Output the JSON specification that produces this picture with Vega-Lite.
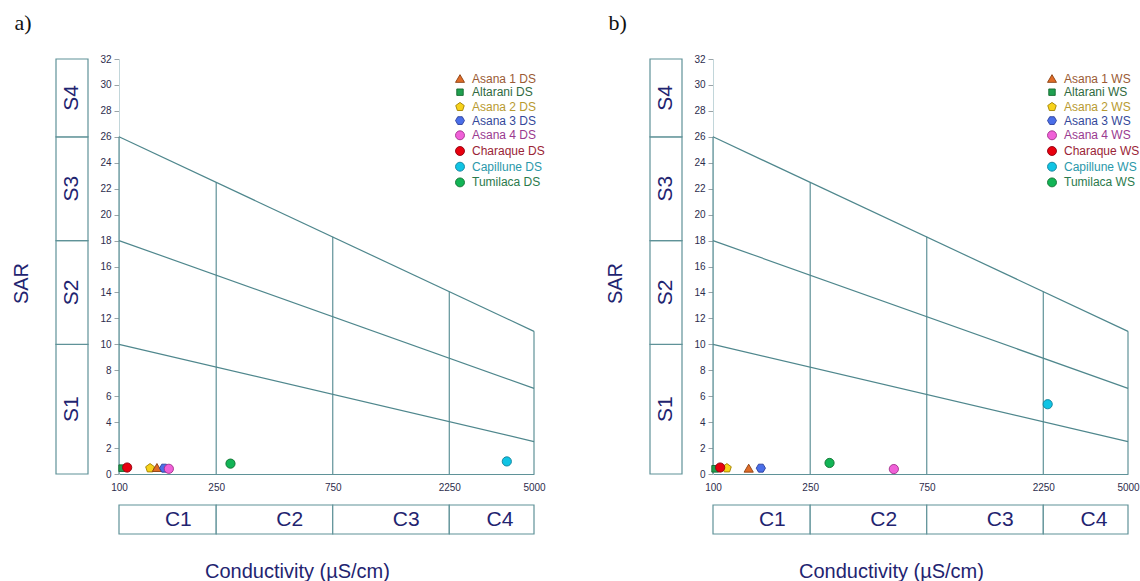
{
  "$schema": "https://vega.github.io/schema/vega-lite/v6.json",
  "background": "white",
  "padding": {"left": 11, "top": 11, "right": 0, "bottom": 0},
  "spacing": 59,
  "config": {
    "view": {"stroke": null},
    "font": "Liberation Sans",
    "axis": {"labelFont": "Liberation Sans", "titleFont": "Liberation Sans"},
    "axisY": {"values": [0, 2, 4, 6, 8, 10, 12, 14, 16, 18, 20, 22, 24, 26, 28, 30, 32], "labelOverlap": false},
    "legend": {"labelFont": "Liberation Sans"}
  },
  "datasets": {
    "sclasses": [
      {"cls": "S1", "lo": 0, "hi": 10},
      {"cls": "S2", "lo": 10, "hi": 18},
      {"cls": "S3", "lo": 18, "hi": 26},
      {"cls": "S4", "lo": 26, "hi": 32}
    ],
    "cclasses": [
      {"cls": "C1", "lo": 100, "hi": 250},
      {"cls": "C2", "lo": 250, "hi": 750},
      {"cls": "C3", "lo": 750, "hi": 2250},
      {"cls": "C4", "lo": 2250, "hi": 5000}
    ],
    "verticals": [
      {"ec": 100, "top": 26},
      {"ec": 250, "top": 22.5},
      {"ec": 750, "top": 18.3},
      {"ec": 2250, "top": 14.06},
      {"ec": 5000, "top": 11}
    ],
    "hazard": [
      {"id": "S1-S2", "ec": 100, "sar": 10},
      {"id": "S1-S2", "ec": 5000, "sar": 2.5},
      {"id": "S2-S3", "ec": 100, "sar": 18},
      {"id": "S2-S3", "ec": 5000, "sar": 6.6},
      {"id": "S3-S4", "ec": 100, "sar": 26},
      {"id": "S3-S4", "ec": 5000, "sar": 11}
    ],
    "ds": [
      {"site": "Altarani DS", "ec": 103, "sar": 0.45},
      {"site": "Asana 2 DS", "ec": 134, "sar": 0.45},
      {"site": "Asana 1 DS", "ec": 143, "sar": 0.5},
      {"site": "Asana 3 DS", "ec": 153, "sar": 0.45},
      {"site": "Asana 4 DS", "ec": 160, "sar": 0.4},
      {"site": "Charaque DS", "ec": 108, "sar": 0.5},
      {"site": "Tumilaca DS", "ec": 286, "sar": 0.8},
      {"site": "Capillune DS", "ec": 3870, "sar": 0.97}
    ],
    "ws": [
      {"site": "Altarani WS", "ec": 102, "sar": 0.4},
      {"site": "Asana 1 WS", "ec": 140, "sar": 0.45},
      {"site": "Asana 3 WS", "ec": 157, "sar": 0.45},
      {"site": "Asana 2 WS", "ec": 114, "sar": 0.45},
      {"site": "Charaque WS", "ec": 107, "sar": 0.5},
      {"site": "Tumilaca WS", "ec": 300, "sar": 0.85},
      {"site": "Asana 4 WS", "ec": 550, "sar": 0.38},
      {"site": "Capillune WS", "ec": 2345, "sar": 5.38}
    ]
  },
  "resolve": {"scale": {"x": "independent", "y": "independent", "color": "independent", "shape": "independent", "stroke": "independent"}},
  "hconcat": [
    {
      "title": {"text": "a)", "anchor": "start", "dx": 3, "font": "Liberation Serif", "fontSize": 22, "fontWeight": "normal", "color": "#111111", "offset": 19.5},
      "columns": 2,
      "spacing": {"row": 12, "column": 10},
      "resolve": {"scale": {"x": "independent", "y": "independent"}},
      "concat": [
        {
          "width": 32, "height": 415,
          "data": {"name": "sclasses"},
          "layer": [
            {"mark": {"type": "rect", "fill": "white", "stroke": "#5f9298", "strokeWidth": 1.2},
             "encoding": {
               "y": {"field": "lo", "type": "quantitative", "scale": {"domain": [0, 32], "nice": false},
                     "axis": {"title": "SAR", "labels": false, "ticks": false, "domain": false, "grid": false, "titleFontSize": 20, "titleFontWeight": "normal", "titleColor": "#1f2470", "titlePadding": 24.5, "titleY": 224}},
               "y2": {"field": "hi"}}},
            {"transform": [{"fold": ["lo", "hi"], "as": ["bound", "v"]}],
             "mark": {"type": "text", "angle": 270, "fontSize": 21, "color": "#1f2470", "align": "center", "baseline": "middle"},
             "encoding": {"y": {"field": "v", "aggregate": "mean", "type": "quantitative"}, "text": {"field": "cls", "type": "nominal"}}}
          ]
        },
        {
          "width": 415, "height": 415,
          "layer": [
            {"data": {"name": "verticals"},
             "mark": {"type": "rule", "color": "#5f9298", "strokeWidth": 1.2},
             "encoding": {
               "x": {"field": "ec", "type": "quantitative", "scale": {"type": "log", "domain": [100, 5000], "nice": false},
                     "axis": {"values": [100, 250, 750, 2250, 5000], "format": "d", "title": null, "ticks": false, "grid": false, "domainColor": "#5f9298", "domainWidth": 1.2, "labelFlush": false, "labelOverlap": false, "labelFontSize": 10, "labelColor": "#2d2d4d", "labelPadding": 8}},
               "y": {"field": "top", "type": "quantitative", "scale": {"domain": [0, 32], "nice": false},
                     "axis": {"values": [0, 2, 4, 6, 8, 10, 12, 14, 16, 18, 20, 22, 24, 26, 28, 30, 32], "tickCount": 17, "format": "d", "title": null, "grid": false, "labelOverlap": false, "tickColor": "#9aa4a8", "tickSize": 5, "domainColor": "#c2d6da", "labelFontSize": 10, "labelColor": "#2d2d4d", "labelPadding": 3}},
               "y2": {"datum": 0}}},
            {"data": {"name": "hazard"},
             "mark": {"type": "line", "color": "#4f878d", "strokeWidth": 1.2},
             "encoding": {"x": {"field": "ec", "type": "quantitative"}, "y": {"field": "sar", "type": "quantitative"}, "detail": {"field": "id", "type": "nominal"}}},
            {"data": {"name": "ds"},
             "mark": {"type": "point", "filled": true, "size": 85, "opacity": 1, "strokeWidth": 0.9},
             "encoding": {
               "x": {"field": "ec", "type": "quantitative"},
               "y": {"field": "sar", "type": "quantitative"},
               "color": {"field": "site", "type": "nominal",
                 "scale": {"domain": ["Asana 1 DS", "Altarani DS", "Asana 2 DS", "Asana 3 DS", "Asana 4 DS", "Charaque DS", "Capillune DS", "Tumilaca DS"],
                           "range": ["#e06c28", "#1fa050", "#f7d21a", "#4a6ee8", "#f060d8", "#e8000e", "#10c4e4", "#12b456"]},
                 "legend": {"orient": "none", "legendX": 398, "legendY": 13.5, "title": null, "labelFontSize": 12, "symbolSize": 80, "rowPadding": 1.7, "labelOffset": 6, "symbolStrokeWidth": 0.9,
                   "labelColor": {"expr": "['#9a5a34','#2f6a40','#b89a30','#34489a','#9a3a90','#9a2436','#2a98aa','#2a7a4c'][indexof(['Asana 1','Altarani','Asana 2','Asana 3','Asana 4','Charaque','Capillune','Tumilaca'], slice(datum.value, 0, -3))]"}}},
               "stroke": {"field": "site", "type": "nominal",
                 "scale": {"domain": ["Asana 1 DS", "Altarani DS", "Asana 2 DS", "Asana 3 DS", "Asana 4 DS", "Charaque DS", "Capillune DS", "Tumilaca DS"],
                           "range": ["#8a4010", "#156a30", "#a08000", "#2a3e9a", "#a0308a", "#900010", "#10809a", "#107030"]}},
               "shape": {"field": "site", "type": "nominal",
                 "scale": {"domain": ["Asana 1 DS", "Altarani DS", "Asana 2 DS", "Asana 3 DS", "Asana 4 DS", "Charaque DS", "Capillune DS", "Tumilaca DS"],
                           "range": ["triangle-up", "M-0.72,-0.72L0.72,-0.72L0.72,0.72L-0.72,0.72Z", "M0,-1L0.951,-0.309L0.588,0.809L-0.588,0.809L-0.951,-0.309Z", "M-1,0L-0.5,-0.866L0.5,-0.866L1,0L0.5,0.866L-0.5,0.866Z", "circle", "circle", "circle", "circle"]}}
             }}
          ]
        },
        {
          "width": 32, "height": 29,
          "data": {"values": [{"blank": ""}]},
          "mark": {"type": "text", "opacity": 0},
          "encoding": {"text": {"field": "blank", "type": "nominal"}}
        },
        {
          "width": 415, "height": 29,
          "data": {"name": "cclasses"},
          "layer": [
            {"mark": {"type": "rect", "fill": "white", "stroke": "#5f9298", "strokeWidth": 1.2},
             "encoding": {
               "x": {"field": "lo", "type": "quantitative", "scale": {"type": "log", "domain": [100, 5000], "nice": false},
                     "axis": {"title": "Conductivity (µS/cm)", "labels": false, "ticks": false, "domain": false, "grid": false, "titleFontSize": 20, "titleFontWeight": "normal", "titleColor": "#1f2470", "titlePadding": 27, "titleX": 178}},
               "x2": {"field": "hi"}}},
            {"transform": [{"fold": ["lo", "hi"], "as": ["bound", "v"]}],
             "mark": {"type": "text", "fontSize": 21, "color": "#1f2470", "align": "center", "baseline": "middle"},
             "encoding": {"x": {"field": "v", "aggregate": "mean", "type": "quantitative"}, "text": {"field": "cls", "type": "nominal"}}}
          ]
        }
      ]
    },
    {
      "title": {"text": "b)", "anchor": "start", "dx": 3, "font": "Liberation Serif", "fontSize": 22, "fontWeight": "normal", "color": "#111111", "offset": 19.5},
      "columns": 2,
      "spacing": {"row": 12, "column": 10},
      "resolve": {"scale": {"x": "independent", "y": "independent"}},
      "concat": [
        {
          "width": 32, "height": 415,
          "data": {"name": "sclasses"},
          "layer": [
            {"mark": {"type": "rect", "fill": "white", "stroke": "#5f9298", "strokeWidth": 1.2},
             "encoding": {
               "y": {"field": "lo", "type": "quantitative", "scale": {"domain": [0, 32], "nice": false},
                     "axis": {"title": "SAR", "labels": false, "ticks": false, "domain": false, "grid": false, "titleFontSize": 20, "titleFontWeight": "normal", "titleColor": "#1f2470", "titlePadding": 24.5, "titleY": 224}},
               "y2": {"field": "hi"}}},
            {"transform": [{"fold": ["lo", "hi"], "as": ["bound", "v"]}],
             "mark": {"type": "text", "angle": 270, "fontSize": 21, "color": "#1f2470", "align": "center", "baseline": "middle"},
             "encoding": {"y": {"field": "v", "aggregate": "mean", "type": "quantitative"}, "text": {"field": "cls", "type": "nominal"}}}
          ]
        },
        {
          "width": 415, "height": 415,
          "layer": [
            {"data": {"name": "verticals"},
             "mark": {"type": "rule", "color": "#5f9298", "strokeWidth": 1.2},
             "encoding": {
               "x": {"field": "ec", "type": "quantitative", "scale": {"type": "log", "domain": [100, 5000], "nice": false},
                     "axis": {"values": [100, 250, 750, 2250, 5000], "format": "d", "title": null, "ticks": false, "grid": false, "domainColor": "#5f9298", "domainWidth": 1.2, "labelFlush": false, "labelOverlap": false, "labelFontSize": 10, "labelColor": "#2d2d4d", "labelPadding": 8}},
               "y": {"field": "top", "type": "quantitative", "scale": {"domain": [0, 32], "nice": false},
                     "axis": {"values": [0, 2, 4, 6, 8, 10, 12, 14, 16, 18, 20, 22, 24, 26, 28, 30, 32], "tickCount": 17, "format": "d", "title": null, "grid": false, "labelOverlap": false, "tickColor": "#9aa4a8", "tickSize": 5, "domainColor": "#c2d6da", "labelFontSize": 10, "labelColor": "#2d2d4d", "labelPadding": 3}},
               "y2": {"datum": 0}}},
            {"data": {"name": "hazard"},
             "mark": {"type": "line", "color": "#4f878d", "strokeWidth": 1.2},
             "encoding": {"x": {"field": "ec", "type": "quantitative"}, "y": {"field": "sar", "type": "quantitative"}, "detail": {"field": "id", "type": "nominal"}}},
            {"data": {"name": "ws"},
             "mark": {"type": "point", "filled": true, "size": 85, "opacity": 1, "strokeWidth": 0.9},
             "encoding": {
               "x": {"field": "ec", "type": "quantitative"},
               "y": {"field": "sar", "type": "quantitative"},
               "color": {"field": "site", "type": "nominal",
                 "scale": {"domain": ["Asana 1 WS", "Altarani WS", "Asana 2 WS", "Asana 3 WS", "Asana 4 WS", "Charaque WS", "Capillune WS", "Tumilaca WS"],
                           "range": ["#e06c28", "#1fa050", "#f7d21a", "#4a6ee8", "#f060d8", "#e8000e", "#10c4e4", "#12b456"]},
                 "legend": {"orient": "none", "legendX": 396, "legendY": 13.5, "title": null, "labelFontSize": 12, "symbolSize": 80, "rowPadding": 1.7, "labelOffset": 6, "symbolStrokeWidth": 0.9,
                   "labelColor": {"expr": "['#9a5a34','#2f6a40','#b89a30','#34489a','#9a3a90','#9a2436','#2a98aa','#2a7a4c'][indexof(['Asana 1','Altarani','Asana 2','Asana 3','Asana 4','Charaque','Capillune','Tumilaca'], slice(datum.value, 0, -3))]"}}},
               "stroke": {"field": "site", "type": "nominal",
                 "scale": {"domain": ["Asana 1 WS", "Altarani WS", "Asana 2 WS", "Asana 3 WS", "Asana 4 WS", "Charaque WS", "Capillune WS", "Tumilaca WS"],
                           "range": ["#8a4010", "#156a30", "#a08000", "#2a3e9a", "#a0308a", "#900010", "#10809a", "#107030"]}},
               "shape": {"field": "site", "type": "nominal",
                 "scale": {"domain": ["Asana 1 WS", "Altarani WS", "Asana 2 WS", "Asana 3 WS", "Asana 4 WS", "Charaque WS", "Capillune WS", "Tumilaca WS"],
                           "range": ["triangle-up", "M-0.72,-0.72L0.72,-0.72L0.72,0.72L-0.72,0.72Z", "M0,-1L0.951,-0.309L0.588,0.809L-0.588,0.809L-0.951,-0.309Z", "M-1,0L-0.5,-0.866L0.5,-0.866L1,0L0.5,0.866L-0.5,0.866Z", "circle", "circle", "circle", "circle"]}}
             }}
          ]
        },
        {
          "width": 32, "height": 29,
          "data": {"values": [{"blank": ""}]},
          "mark": {"type": "text", "opacity": 0},
          "encoding": {"text": {"field": "blank", "type": "nominal"}}
        },
        {
          "width": 415, "height": 29,
          "data": {"name": "cclasses"},
          "layer": [
            {"mark": {"type": "rect", "fill": "white", "stroke": "#5f9298", "strokeWidth": 1.2},
             "encoding": {
               "x": {"field": "lo", "type": "quantitative", "scale": {"type": "log", "domain": [100, 5000], "nice": false},
                     "axis": {"title": "Conductivity (µS/cm)", "labels": false, "ticks": false, "domain": false, "grid": false, "titleFontSize": 20, "titleFontWeight": "normal", "titleColor": "#1f2470", "titlePadding": 27, "titleX": 178}},
               "x2": {"field": "hi"}}},
            {"transform": [{"fold": ["lo", "hi"], "as": ["bound", "v"]}],
             "mark": {"type": "text", "fontSize": 21, "color": "#1f2470", "align": "center", "baseline": "middle"},
             "encoding": {"x": {"field": "v", "aggregate": "mean", "type": "quantitative"}, "text": {"field": "cls", "type": "nominal"}}}
          ]
        }
      ]
    }
  ]
}
